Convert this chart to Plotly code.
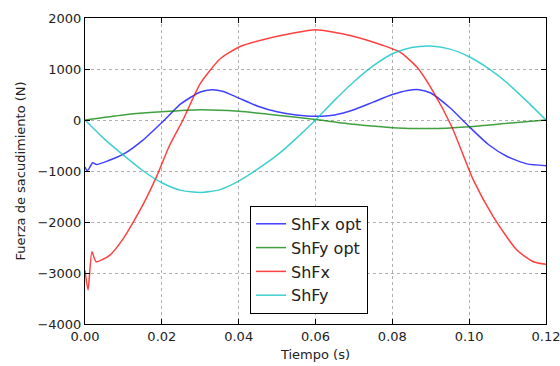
import plotly.graph_objects as go

# ShFx opt (blue)
t_bx = [0, 0.0005, 0.001, 0.002, 0.003, 0.006, 0.01, 0.015, 0.02, 0.025, 0.03, 0.033, 0.036, 0.04, 0.045,
        0.05, 0.055, 0.06, 0.065, 0.07, 0.075, 0.08, 0.084, 0.087, 0.09, 0.095, 0.1, 0.105, 0.11, 0.115, 0.12]
shfx_opt = [-920, -990, -960, -840, -873, -800, -671, -400, -50, 320, 550, 595, 560, 430, 270,
            160, 100, 75, 100, 200, 350, 500, 580, 595, 530, 240, -130, -480, -720, -860, -895]

# ShFy opt (green)
t_gy = [0, 0.01, 0.02, 0.03, 0.04, 0.05, 0.06, 0.07, 0.08, 0.09, 0.1, 0.11, 0.12]
shfy_opt = [0, 100, 160, 200, 170, 95, 8, -85, -150, -168, -130, -65, 0]

# ShFx (red)
t_rx = [0, 0.0008, 0.0018, 0.0029, 0.0065, 0.01, 0.0126, 0.0155, 0.0186, 0.022, 0.0255, 0.03, 0.0352,
        0.0404, 0.0473, 0.054, 0.06, 0.069, 0.0776, 0.082, 0.0864, 0.0907, 0.0955, 0.1011, 0.1063,
        0.1124, 0.1167, 0.12]
shfx = [-2950, -3333, -2583, -2779, -2648, -2320, -1996, -1600, -1115, -500, 0, 712, 1201,
        1442, 1593, 1700, 1769, 1657, 1462, 1331, 1037, 548, -137, -1180, -1898,
        -2550, -2779, -2830]

# ShFy (cyan)
t_cy = [0, 0.005, 0.01, 0.015, 0.02, 0.025, 0.03, 0.035, 0.04, 0.045, 0.05, 0.055, 0.06, 0.065,
        0.07, 0.075, 0.08, 0.085, 0.09, 0.095, 0.1, 0.105, 0.11, 0.115, 0.12]
shfy = [0, -370, -690, -990, -1230, -1380, -1420, -1370, -1200, -960, -690, -360, 0, 390,
        750, 1060, 1300, 1420, 1450, 1390, 1240, 1010, 720, 370, 0]

x_ticks = [0.0, 0.02, 0.04, 0.06, 0.08, 0.10, 0.12]
x_labels = ["0.00", "0.02", "0.04", "0.06", "0.08", "0.10", "0.12"]
y_ticks = [-4000, -3000, -2000, -1000, 0, 1000, 2000]
y_labels = ["\u22124000", "\u22123000", "\u22122000", "\u22121000", "0", "1000", "2000"]

series = [
    ("ShFx opt", t_bx, shfx_opt, "rgba(0,0,255,0.75)"),
    ("ShFy opt", t_gy, shfy_opt, "rgba(0,128,0,0.75)"),
    ("ShFx", t_rx, shfx, "rgba(255,0,0,0.75)"),
    ("ShFy", t_cy, shfy, "rgba(0,191,191,0.75)"),
]

fig = go.Figure()
for name, xs, ys, col in series:
    fig.add_trace(go.Scatter(x=xs, y=ys, name=name, mode="lines",
                             line=dict(color=col, width=1.5, shape="spline", smoothing=0.6)))

font = "DejaVu Sans, sans-serif"
axis_common = dict(showline=True, linecolor="black", linewidth=1, mirror="ticks",
                   ticks="inside", ticklen=5, tickcolor="black",
                   showgrid=True, gridcolor="#b0b0b0", griddash="dot", gridwidth=1,
                   zeroline=False, automargin=False, ticklabeloverflow="allow",
                   tickfont=dict(family=font, size=13, color="#222"))

fig.update_layout(
    width=560, height=366,
    margin=dict(l=85, r=14, t=18, b=42),
    paper_bgcolor="white", plot_bgcolor="white",
    showlegend=True,
    legend=dict(x=0.358, y=0.386, xanchor="left", yanchor="top",
                bordercolor="black", borderwidth=1, bgcolor="white",
                font=dict(family=font, size=16, color="#222"),
                tracegroupgap=0, itemwidth=30),
    xaxis=dict(range=[0, 0.120001], tickvals=x_ticks, ticktext=x_labels,
               title=dict(text="Tiempo (s)", font=dict(family=font, size=13, color="#222"), standoff=7),
               **axis_common),
    yaxis=dict(range=[-4000, 2000], tickvals=y_ticks, ticktext=y_labels,
               title=dict(text="Fuerza de sacudimiento (N)", font=dict(family=font, size=13, color="#222"), standoff=8),
               **axis_common),
)

fig.write_html("out.html")
